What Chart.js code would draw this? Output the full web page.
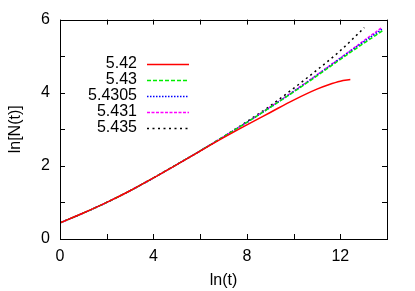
<!DOCTYPE html>
<html>
<head>
<meta charset="utf-8">
<script src="https://cdn.jsdelivr.net/npm/chart.js@4/dist/chart.umd.min.js"></script>
<style>
html,body{margin:0;padding:0;background:#fff;}
#wrap{width:415px;height:291px;position:relative;}
</style>
</head>
<body>
<div id="wrap"><canvas id="c" width="415" height="291"></canvas></div>
<script>
// ---- data ----
const seriesLabels = ['5.42', '5.43', '5.4305', '5.431', '5.435'];

const xRed   = [0, 1, 2, 3, 4, 5, 6, 7, 8, 9, 10, 11, 11.5, 12, 12.43];
const yRed   = [0.44, 0.71, 1.00, 1.32, 1.67, 2.035, 2.405, 2.77, 3.12, 3.46, 3.80, 4.10, 4.22, 4.315, 4.36];

const xMain  = [0, 1, 2, 3, 4, 5, 6, 7, 8, 9, 10, 11, 12, 13, 13.8];
const y543   = [0.44, 0.71, 1.00, 1.32, 1.67, 2.035, 2.41, 2.795, 3.19, 3.60, 4.02, 4.46, 4.91, 5.35, 5.69];
const y54305 = [0.44, 0.71, 1.00, 1.32, 1.67, 2.035, 2.41, 2.795, 3.19, 3.60, 4.03, 4.48, 4.94, 5.39, 5.74];
const y5431  = [0.44, 0.71, 1.00, 1.32, 1.67, 2.035, 2.41, 2.795, 3.19, 3.61, 4.04, 4.49, 4.95, 5.42, 5.79];

const xBlack = [0, 1, 2, 3, 4, 5, 6, 7, 8, 9, 10, 11, 12, 13.03];
const yBlack = [0.44, 0.71, 1.00, 1.32, 1.67, 2.035, 2.41, 2.80, 3.21, 3.64, 4.12, 4.62, 5.15, 5.78];

const xTickLabels = ['0', '4', '8', '12'];
const yTickLabels = ['0', '2', '4', '6'];

// ---- build ----
function pts(xs, ys){ return xs.map((x,i)=>({x:x, y:ys[i]})); }

const FONT = 'Liberation Sans, Arial, Helvetica, sans-serif';
const FS = 16;

const datasets = [
  {label: seriesLabels[0], data: pts(xRed, yRed),     borderColor:'#ff0000', borderDash:[],        borderWidth:1.5},
  {label: seriesLabels[1], data: pts(xMain, y543),    borderColor:'#00ee00', borderDash:[4,2],     borderWidth:1.5},
  {label: seriesLabels[2], data: pts(xMain, y54305),  borderColor:'#0000ff', borderDash:[1.5,1.5], borderWidth:1.5},
  {label: seriesLabels[3], data: pts(xMain, y5431),   borderColor:'#ff00ff', borderDash:[3,1.5],   borderWidth:1.5},
  {label: seriesLabels[4], data: pts(xBlack, yBlack), borderColor:'#000000', borderDash:[2,3.5],   borderWidth:1.5},
].map(d => Object.assign(d, {showLine:true, pointRadius:0, fill:false, cubicInterpolationMode:'monotone'}));

const framePlugin = {
  id: 'frame',
  afterDatasetsDraw(chart){
    const ctx = chart.ctx, a = chart.chartArea;
    const xs = chart.scales.x, ys = chart.scales.y;
    ctx.save();
    ctx.strokeStyle = '#000';
    ctx.lineWidth = 1;
    ctx.setLineDash([]);
    ctx.beginPath();
    const L = 5;
    xs.ticks.forEach(t => {
      const p = Math.round(xs.getPixelForValue(t.value)) + 0.5;
      ctx.moveTo(p, a.bottom); ctx.lineTo(p, a.bottom - L);
      ctx.moveTo(p, a.top); ctx.lineTo(p, a.top + L);
    });
    ys.ticks.forEach(t => {
      const p = Math.round(ys.getPixelForValue(t.value)) + 0.5;
      ctx.moveTo(a.left, p); ctx.lineTo(a.left + L, p);
      ctx.moveTo(a.right, p); ctx.lineTo(a.right - L, p);
    });
    ctx.stroke();
    ctx.strokeRect(Math.round(a.left)+0.5, Math.round(a.top)+0.5, Math.round(a.right - a.left), Math.round(a.bottom - a.top));
    ctx.restore();
  }
};

const keyPlugin = {
  id: 'key',
  afterDatasetsDraw(chart){
    const ctx = chart.ctx;
    const textRight = 137, lineL = 147, lineR = 189, y0 = 64, dy = 16;
    ctx.save();
    ctx.font = FS + 'px ' + FONT;
    ctx.textAlign = 'right';
    ctx.textBaseline = 'middle';
    chart.data.datasets.forEach((d, i) => {
      const y = y0 + dy * i;
      ctx.fillStyle = '#000';
      ctx.fillText(d.label, textRight, y);
      ctx.strokeStyle = d.borderColor;
      ctx.lineWidth = d.borderWidth;
      ctx.setLineDash(d.borderDash);
      ctx.beginPath();
      ctx.moveTo(lineL, y + 0.5); ctx.lineTo(lineR, y + 0.5);
      ctx.stroke();
    });
    ctx.restore();
  }
};

new Chart(document.getElementById('c'), {
  type: 'scatter',
  data: { datasets },
  options: {
    responsive: false,
    animation: false,
    layout: { padding: { top: 19, right: 28, left: 0, bottom: 0 } },
    plugins: { legend: { display: false }, tooltip: { enabled: false } },
    scales: {
      x: {
        type: 'linear', min: 0, max: 14,
        grid: { display: false, drawTicks: false },
        border: { display: false },
        ticks: {
          stepSize: 2, padding: 8, color: '#000', maxRotation: 0, autoSkip: false,
          font: { family: FONT, size: FS },
          callback: v => xTickLabels.includes(String(v)) ? String(v) : ''
        },
        title: { display: true, text: 'ln(t)', color: '#000', font: { family: FONT, size: FS }, padding: { top: 0, bottom: 1 } },
        afterFit: s => { s.height = 52; }
      },
      y: {
        type: 'linear', min: 0, max: 6,
        grid: { display: false, drawTicks: false },
        border: { display: false },
        ticks: {
          stepSize: 1, padding: 10, color: '#000', autoSkip: false,
          font: { family: FONT, size: FS },
          callback: v => yTickLabels.includes(String(v)) ? String(v) : ''
        },
        title: { display: true, text: 'ln[N(t)]', color: '#000', font: { family: FONT, size: FS }, padding: { top: 6, bottom: 0 } },
        afterFit: s => { s.width = 60; }
      }
    }
  },
  plugins: [framePlugin, keyPlugin]
});
</script>
</body>
</html>
